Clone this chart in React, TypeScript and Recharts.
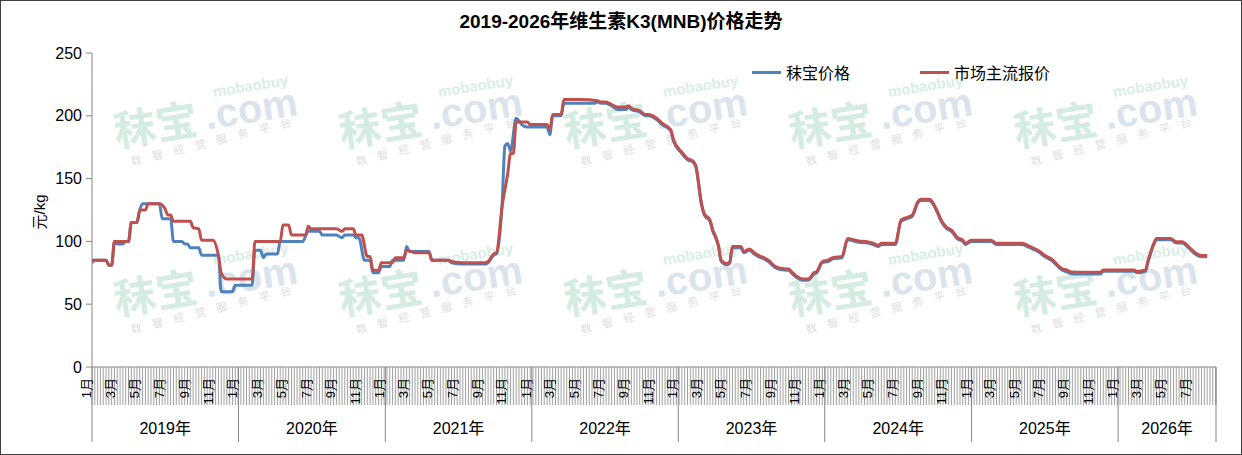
import React from "react";
import { LineChart, Line, XAxis, YAxis, Legend } from "recharts";

const BLUE = "#4F81BD";
const RED = "#C0504D";
const AXIS_GREY = "#868686";
const FONT = '"Liberation Sans", Arial, "Noto Sans CJK SC", sans-serif';

// weekly series, x measured in weeks since 2019-01-01
const ORIGIN = Date.UTC(2019, 0, 1);
const weekOf = (year: number, month: number, day = 1) =>
  (Date.UTC(year, month - 1, day) - ORIGIN) / (7 * 86400000);

const YEARS = [2019, 2020, 2021, 2022, 2023, 2024, 2025, 2026];
const LABEL_MONTHS = [1, 3, 5, 7, 9, 11];
const AXIS_END = weekOf(2026, 9, 2);
const Y_TICKS = [0, 50, 100, 150, 200, 250];
const SERIES_NAMES = ["秣宝价格", "市场主流报价"];

// 市场主流报价 — breakpoints (week, 元/kg)
const RED_WEEK = [
  0, 1, 5, 6, 7, 8, 13, 14, 16, 17, 19, 20, 24, 26, 27, 28, 29, 35, 36, 38,
  39, 43, 45, 46, 48, 57, 58, 67, 68, 70, 71, 76, 77, 78, 87, 89, 90, 93, 94, 96,
  98, 99, 100, 102, 103, 107, 108, 111, 112, 115, 120, 121, 127, 128, 132, 140, 141, 143, 144, 146,
  148, 149, 150, 151, 155, 156, 162, 163, 164, 167, 168, 174, 180, 181, 183, 184, 185, 187, 190, 191,
  192, 195, 197, 198, 201, 203, 206, 207, 210, 212, 214, 215, 217, 218, 220, 221, 222, 223, 224, 226,
  227, 228, 231, 232, 234, 236, 238, 239, 241, 243, 245, 248, 249, 251, 253, 255, 257, 258, 260, 262,
  264, 267, 269, 271, 273, 276, 278, 280, 281, 286, 288, 290, 292, 294, 295, 298, 301, 302, 304, 306,
  308, 310, 311, 313, 320, 322, 331, 334, 337, 339, 342, 345, 347, 349, 359, 360, 371, 372, 375, 376,
  378, 379, 384, 386, 388, 391, 393, 395, 397,
];
const RED_PRICE = [
  83, 85, 85, 81, 81, 100, 100, 115, 115, 125, 125, 130, 130, 126, 121, 121, 116, 116, 111, 110,
  101, 101, 89, 75, 70, 70, 100, 100, 113, 113, 105, 105, 112, 110, 110, 108, 110, 110, 105, 105,
  88, 88, 77, 77, 83, 83, 87, 87, 93, 91, 91, 85, 85, 84, 83, 83, 84, 90, 91, 128,
  154, 170, 170, 195, 195, 193, 193, 189, 201, 201, 213, 213, 212, 211, 211, 210, 209, 207, 207, 208,
  206, 204, 201, 201, 198, 194, 189, 181, 171, 166, 164, 160, 130, 122, 117, 109, 104, 97, 85, 82.5,
  83.5, 96, 96, 92, 94, 90.5, 88, 87.3, 84.6, 80.4, 78.6, 78, 76, 72, 70, 70, 75, 76, 84, 85,
  87.3, 88, 102.4, 101.4, 100.3, 99.8, 98.5, 97, 98.5, 98.5, 117, 119, 121, 131.6, 133.5, 133.5, 123.7, 118.4, 111.7, 109,
  103.2, 101, 98.5, 101, 101, 98.5, 98.5, 95.8, 92.6, 89.2, 85.2, 78.6, 77.2, 75.4, 75.4, 77.2, 77.2, 76, 77.2, 85,
  98.5, 102.4, 102.4, 99.8, 99.8, 94.5, 90.5, 88.7, 88.7,
];

// 秣宝价格 — breakpoints (week, 元/kg)
const BLUE_WEEK = [
  0, 5, 6, 7, 8, 9, 11, 12, 13, 14, 16, 17, 18, 24, 25, 28, 29, 32, 33, 34,
  35, 38, 39, 45, 46, 50, 51, 57, 58, 60, 61, 62, 66, 67, 75, 77, 81, 82, 87, 89,
  90, 93, 94, 95, 97, 99, 100, 102, 103, 106, 107, 111, 112, 113, 120, 121, 127, 128, 132, 140,
  141, 143, 144, 146, 147, 148, 149, 151, 152, 153, 155, 162, 163, 164, 167, 168, 174, 179, 180, 181,
  183, 184, 185, 187, 190, 191, 192, 195, 197, 198, 201, 203, 206, 207, 210, 212, 214, 215, 217, 218,
  220, 221, 222, 223, 224, 226, 227, 228, 231, 232, 234, 236, 238, 239, 241, 243, 245, 248, 249, 251,
  253, 255, 257, 258, 260, 262, 264, 267, 269, 271, 273, 276, 278, 280, 281, 286, 288, 290, 292, 294,
  295, 298, 301, 302, 304, 306, 308, 310, 311, 313, 320, 322, 331, 334, 337, 339, 342, 345, 347, 349,
  359, 360, 371, 372, 375, 376, 378, 379, 384, 386, 388, 391, 393, 395, 397,
];
const BLUE_PRICE = [
  85, 85, 81, 81, 100, 98, 98, 100, 100, 115, 115, 125, 130, 130, 118, 118, 100, 100, 98, 98,
  95, 95, 89, 89, 60, 60, 65, 65, 93, 93, 87, 90, 90, 100, 100, 108, 108, 105, 105, 103,
  105, 105, 103, 103, 85, 85, 75, 75, 80, 80, 85, 85, 96, 92, 92, 85, 85, 83, 82, 82,
  83, 89, 90, 130, 176, 178, 172, 198, 196, 193, 191, 191, 185, 200, 200, 210, 210, 210, 211, 210,
  210, 209, 208, 205, 205, 207, 205, 203, 200, 200, 197, 193, 188, 180, 170, 165, 163, 159, 129, 121,
  116, 108, 103, 96, 84, 81.5, 82.5, 95, 95, 91, 93, 89.5, 87, 86.3, 83.6, 79.4, 77.6, 77, 75, 71,
  69, 69, 74, 75, 83, 84, 86.3, 87, 101.4, 100.4, 99.3, 98.8, 97.5, 96, 97.5, 97.5, 116, 118, 120, 130.6,
  132.5, 132.5, 122.7, 117.4, 110.7, 108, 102.2, 100, 97.5, 100, 100, 97.5, 97.5, 94.8, 91.6, 88.2, 84.2, 77.6, 75.7, 74,
  74, 76.2, 76.2, 75, 76.2, 84, 97.5, 101.4, 101.4, 98.8, 98.8, 93.5, 89.5, 87.7, 87.7,
];

const redData = RED_WEEK.map((week, i) => ({ week, price: RED_PRICE[i] }));
const blueData = BLUE_WEEK.map((week, i) => ({ week, price: BLUE_PRICE[i] }));

// x axis marks: weekly tick lines, month labels, year labels and separators
type Mark = { week?: boolean; month?: string; year?: string; edge?: boolean };
const marks = new Map<number, Mark>();
const addMark = (pos: number, m: Mark) => marks.set(pos, { ...marks.get(pos), ...m });

for (let w = 0; w <= AXIS_END; w++) addMark(w, { week: true });
YEARS.forEach((y, i) => {
  const start = weekOf(y, 1);
  const end = i + 1 < YEARS.length ? weekOf(y + 1, 1) : AXIS_END;
  addMark(start, { edge: true });
  LABEL_MONTHS.forEach((m) => {
    const pos = weekOf(y, m);
    if (pos < AXIS_END - 1) addMark(pos, { month: `${m}月` });
  });
  addMark((start + end) / 2, { year: `${y}年` });
});
addMark(AXIS_END, { edge: true, week: true });
const X_TICKS = [...marks.keys()].sort((a, b) => a - b);

function AxisTick({ x, y, payload }: any) {
  const m = marks.get(payload.value) ?? {};
  return (
    <g>
      {m.week && <line x1={x} x2={x} y1={y} y2={y + 38} stroke="#a0a0a0" strokeWidth={1} />}
      {m.edge && <line x1={x} x2={x} y1={y} y2={y + 75} stroke={AXIS_GREY} strokeWidth={1} />}
      {m.month && (
        <text
          x={x - 1}
          y={y + 11}
          transform={`rotate(-90 ${x - 1} ${y + 11})`}
          textAnchor="end"
          fontSize={13}
          fill="#000"
        >
          {m.month}
        </text>
      )}
      {m.year && (
        <text x={x} y={y + 67} textAnchor="middle" fontSize={16} fill="#000">
          {m.year}
        </text>
      )}
    </g>
  );
}

function LegendBox({ payload }: any) {
  const items = [...(payload ?? [])].sort(
    (a: any, b: any) => SERIES_NAMES.indexOf(a.value) - SERIES_NAMES.indexOf(b.value)
  );
  return (
    <div style={{ display: "flex", fontFamily: FONT, fontSize: 16, color: "#000" }}>
      {items.map((p: any) => (
        <div key={p.value} style={{ display: "flex", alignItems: "center", width: 168 }}>
          <span style={{ width: 29, height: 3, background: p.color, marginRight: 5 }} />
          <span>{p.value}</span>
        </div>
      ))}
    </div>
  );
}

const WATERMARK_SPOTS = [
  [115, 108], [340, 108], [565, 108], [790, 108], [1015, 108],
  [115, 276], [340, 276], [565, 276], [790, 276], [1015, 276],
];

function Watermark({ left, top }: { left: number; top: number }) {
  return (
    <div
      style={{
        position: "absolute",
        left,
        top,
        width: 190,
        height: 60,
        transform: "rotate(-9deg)",
        transformOrigin: "0 50%",
        fontFamily: FONT,
        whiteSpace: "nowrap",
        fontWeight: 700,
      }}
    >
      <span style={{ position: "absolute", left: 0, top: 4, fontSize: 42, color: "#d5ece2", lineHeight: "42px" }}>
        秣宝
      </span>
      <span style={{ position: "absolute", left: 92, top: 2, fontSize: 40, color: "#dbe4ed", lineHeight: "40px" }}>
        .com
      </span>
      <span style={{ position: "absolute", left: 104, top: -8, fontSize: 15, color: "#d9eee5", lineHeight: "15px" }}>
        mobaobuy
      </span>
      <span
        style={{
          position: "absolute",
          left: 12,
          top: 50,
          fontSize: 11,
          fontWeight: 400,
          color: "#dedede",
          letterSpacing: 11,
          lineHeight: "12px",
          transform: "rotate(-5deg)",
          transformOrigin: "0 50%",
        }}
      >
        数智经营服务平台
      </span>
    </div>
  );
}

export default function App() {
  return (
    <div style={{ position: "absolute", left: 0, top: 0, width: 1242, height: 455, background: "#fff", fontFamily: FONT, overflow: "hidden" }}>
      {WATERMARK_SPOTS.map(([l, t], i) => (
        <Watermark key={i} left={l} top={t} />
      ))}
      <div
        style={{
          position: "absolute",
          left: 0,
          top: 11,
          width: 1242,
          textAlign: "center",
          fontSize: 19,
          fontWeight: 700,
          lineHeight: "22px",
          color: "#000",
        }}
      >
        2019-2026年维生素K3(MNB)价格走势
      </div>
      <div
        style={{
          position: "absolute",
          left: 38,
          top: 212,
          transform: "translate(-50%, -50%) rotate(-90deg)",
          fontSize: 15,
          whiteSpace: "nowrap",
          color: "#000",
        }}
      >
        元/kg
      </div>
      <LineChart
        width={1242}
        height={455}
        margin={{ top: 53, right: 26, bottom: 0, left: 0 }}
        style={{ position: "absolute", left: 0, top: 0, fontFamily: FONT }}
      >
        <XAxis
          type="number"
          dataKey="week"
          domain={[0, AXIS_END]}
          ticks={X_TICKS}
          interval={0}
          height={88}
          tickSize={0}
          tickMargin={0}
          tickLine={false}
          axisLine={{ stroke: AXIS_GREY }}
          tick={AxisTick}
          allowDataOverflow
        />
        <YAxis
          type="number"
          domain={[0, 250]}
          ticks={Y_TICKS}
          interval={0}
          width={92}
          tickSize={6}
          tickMargin={4}
          axisLine={{ stroke: AXIS_GREY }}
          tickLine={{ stroke: AXIS_GREY }}
          tick={{ fill: "#000", fontSize: 16 }}
        />
        <Legend
          layout="horizontal"
          verticalAlign="middle"
          align="center"
          wrapperStyle={{ left: 752, top: 60, width: 360 }}
          content={LegendBox}
        />
        <Line
          name="秣宝价格"
          data={blueData}
          dataKey="price"
          type="monotone"
          stroke={BLUE}
          strokeWidth={3}
          dot={false}
          activeDot={false}
          isAnimationActive={false}
        />
        <Line
          name="市场主流报价"
          data={redData}
          dataKey="price"
          type="monotone"
          stroke={RED}
          strokeWidth={3}
          dot={false}
          activeDot={false}
          isAnimationActive={false}
        />
      </LineChart>
      <div style={{ position: "absolute", inset: 0, border: "1px solid #404040", pointerEvents: "none" }} />
    </div>
  );
}
